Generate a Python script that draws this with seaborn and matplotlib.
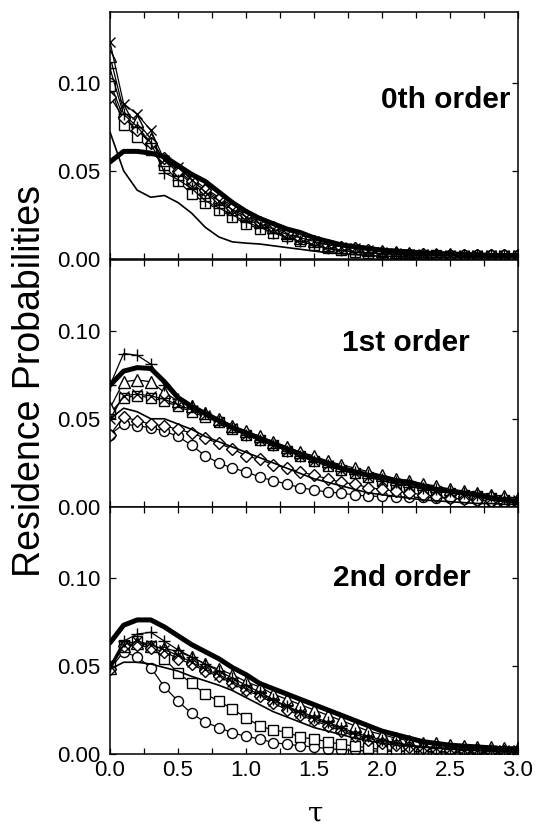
import numpy as np
import pandas as pd
import matplotlib
matplotlib.use("Agg")
import matplotlib.pyplot as plt
import seaborn as sns
from matplotlib.ticker import MultipleLocator

sns.set_style("ticks")
plt.rcParams['font.family'] = ['Liberation Sans', 'DejaVu Sans']
plt.rcParams.update({"text.color": "black", "axes.labelcolor": "black",
                     "xtick.color": "black", "ytick.color": "black",
                     "axes.edgecolor": "black"})

tau = [round(0.1 * i, 1) for i in range(31)]
panel_labels = ["0th order", "1st order", "2nd order"]
y_ticks = [0.00, 0.05, 0.10]
x_ticks = [0.0, 0.5, 1.0, 1.5, 2.0, 2.5, 3.0]

# ---------------- 0th order ----------------
p0_thick = [0.055, 0.061, 0.061, 0.060, 0.058, 0.053, 0.048, 0.044, 0.038, 0.032, 0.027,
            0.023, 0.020, 0.017, 0.015, 0.012, 0.010, 0.008, 0.007, 0.006, 0.005,
            0.0045, 0.004, 0.0035, 0.003, 0.003, 0.0025, 0.0025, 0.002, 0.002, 0.002]
p0_thin = [0.072, 0.050, 0.039, 0.035, 0.036, 0.032, 0.026, 0.018, 0.0125, 0.0097, 0.009,
           0.0085, 0.0075, 0.0065, 0.0055, 0.0045, 0.0035, 0.003, 0.0025, 0.002, 0.0015,
           0.0015, 0.001, 0.001, 0.001, 0.001, 0.001, 0.001, 0.001, 0.001, 0.001]
p0_circle = [0.100, 0.080, 0.074, 0.065, 0.056, 0.049, 0.043, 0.037, 0.032, 0.027, 0.023,
             0.019, 0.016, 0.013, 0.011, 0.009, 0.007, 0.006, 0.005, 0.004, 0.0035,
             0.003, 0.003, 0.0025, 0.0025, 0.002, 0.002, 0.002, 0.002, 0.002, 0.002]
p0_square = [0.098, 0.076, 0.069, 0.0615, 0.053, 0.044, 0.037, 0.032, 0.028, 0.024, 0.020,
             0.017, 0.015, 0.013, 0.010, 0.008, 0.006, 0.005, 0.004, 0.0035, 0.003,
             0.0025, 0.002, 0.002, 0.002, 0.0015, 0.0015, 0.0015, 0.0015, 0.0015, 0.0015]
p0_triangle = [0.115, 0.084, 0.078, 0.068, 0.056, 0.051, 0.046, 0.040, 0.035, 0.030, 0.025,
               0.021, 0.018, 0.015, 0.012, 0.010, 0.008, 0.007, 0.006, 0.005, 0.0045,
               0.004, 0.0035, 0.003, 0.003, 0.003, 0.0025, 0.0025, 0.0025, 0.0025, 0.0025]
p0_diamond = [0.092, 0.080, 0.073, 0.066, 0.057, 0.050, 0.044, 0.039, 0.034, 0.029, 0.025,
              0.021, 0.018, 0.015, 0.012, 0.010, 0.008, 0.007, 0.006, 0.005, 0.004,
              0.0035, 0.003, 0.003, 0.0025, 0.0025, 0.0025, 0.002, 0.002, 0.002, 0.002]
p0_plus = [0.108, 0.082, 0.075, 0.066, 0.049, 0.045, 0.040, 0.033, 0.029, 0.025, 0.021,
           0.018, 0.015, 0.012, 0.010, 0.008, 0.006, 0.005, 0.004, 0.0035, 0.003,
           0.003, 0.0025, 0.0025, 0.002, 0.002, 0.002, 0.002, 0.002, 0.002, 0.002]
p0_cross = [0.123, 0.088, 0.082, 0.073, 0.056, 0.052, 0.045, 0.038, 0.033, 0.028, 0.024,
            0.020, 0.017, 0.014, 0.012, 0.010, 0.008, 0.007, 0.006, 0.005, 0.004,
            0.0035, 0.003, 0.003, 0.0025, 0.0025, 0.002, 0.002, 0.002, 0.002, 0.002]

# ---------------- 1st order ----------------
p1_thick = [0.069, 0.077, 0.079, 0.0785, 0.071, 0.062, 0.057, 0.053, 0.049, 0.045, 0.042,
            0.039, 0.036, 0.033, 0.030, 0.027, 0.025, 0.022, 0.020, 0.018, 0.017,
            0.015, 0.014, 0.012, 0.010, 0.009, 0.008, 0.007, 0.005, 0.004, 0.003]
p1_thin = [0.050, 0.056, 0.054, 0.050, 0.050, 0.047, 0.044, 0.040, 0.037, 0.034, 0.031,
           0.028, 0.025, 0.022, 0.019, 0.016, 0.014, 0.012, 0.010, 0.008, 0.007,
           0.006, 0.005, 0.004, 0.0035, 0.003, 0.0025, 0.002, 0.002, 0.0015, 0.0015]
p1_circle = [0.041, 0.047, 0.046, 0.045, 0.043, 0.040, 0.035, 0.029, 0.025, 0.022, 0.020,
             0.017, 0.015, 0.013, 0.011, 0.0096, 0.0085, 0.0079, 0.0068, 0.0062, 0.006,
             0.0058, 0.0056, 0.0054, 0.0052, 0.005, 0.0045, 0.004, 0.0035, 0.003, 0.003]
p1_square = [0.053, 0.062, 0.063, 0.062, 0.060, 0.057, 0.054, 0.051, 0.048, 0.044, 0.041,
             0.038, 0.035, 0.032, 0.029, 0.026, 0.023, 0.021, 0.019, 0.017, 0.015,
             0.013, 0.012, 0.010, 0.009, 0.008, 0.007, 0.006, 0.005, 0.004, 0.003]
p1_triangle = [0.056, 0.071, 0.072, 0.071, 0.065, 0.060, 0.057, 0.053, 0.050, 0.046, 0.043,
               0.040, 0.037, 0.034, 0.031, 0.029, 0.026, 0.024, 0.022, 0.020, 0.018,
               0.016, 0.015, 0.013, 0.012, 0.010, 0.009, 0.008, 0.007, 0.006, 0.005]
p1_diamond = [0.041, 0.051, 0.049, 0.047, 0.046, 0.044, 0.042, 0.039, 0.036, 0.033, 0.029,
              0.027, 0.024, 0.022, 0.020, 0.018, 0.016, 0.014, 0.013, 0.011, 0.010,
              0.009, 0.008, 0.007, 0.006, 0.005, 0.0045, 0.004, 0.0035, 0.003, 0.003]
p1_plus = [0.069, 0.087, 0.086, 0.081, 0.069, 0.061, 0.057, 0.053, 0.049, 0.045, 0.041,
           0.038, 0.035, 0.032, 0.029, 0.026, 0.024, 0.022, 0.020, 0.018, 0.016,
           0.014, 0.013, 0.011, 0.010, 0.009, 0.008, 0.007, 0.006, 0.005, 0.004]
p1_cross = [0.050, 0.063, 0.064, 0.063, 0.061, 0.058, 0.055, 0.052, 0.048, 0.045, 0.041,
            0.038, 0.035, 0.032, 0.029, 0.026, 0.024, 0.021, 0.019, 0.017, 0.015,
            0.013, 0.012, 0.010, 0.009, 0.008, 0.007, 0.006, 0.005, 0.004, 0.004]

# ---------------- 2nd order ----------------
p2_thick = [0.063, 0.073, 0.076, 0.076, 0.072, 0.067, 0.062, 0.058, 0.054, 0.049, 0.045,
            0.040, 0.037, 0.034, 0.031, 0.028, 0.025, 0.022, 0.019, 0.016, 0.013,
            0.011, 0.009, 0.007, 0.006, 0.005, 0.0045, 0.004, 0.0035, 0.003, 0.003]
p2_thin = [0.048, 0.052, 0.052, 0.051, 0.049, 0.047, 0.044, 0.0415, 0.039, 0.036, 0.032,
           0.028, 0.024, 0.021, 0.018, 0.015, 0.013, 0.011, 0.009, 0.0075, 0.006,
           0.005, 0.0045, 0.004, 0.0035, 0.003, 0.0025, 0.002, 0.0015, 0.0012, 0.001]
p2_circle = [0.048, 0.058, 0.055, 0.049, 0.038, 0.030, 0.023, 0.018, 0.015, 0.012, 0.010,
             0.0085, 0.0065, 0.0055, 0.0047, 0.004, 0.003, 0.0025, 0.002, 0.0018, 0.0016,
             0.0015, 0.0014, 0.0013, 0.0012, 0.0012, 0.0011, 0.001, 0.001, 0.001, 0.001]
p2_square = [0.050, 0.062, 0.064, 0.061, 0.054, 0.046, 0.040, 0.034, 0.030, 0.0255, 0.0205,
             0.016, 0.0135, 0.0125, 0.0095, 0.0085, 0.007, 0.0055, 0.0045, 0.0035, 0.0025,
             0.002, 0.0015, 0.0013, 0.0012, 0.0011, 0.001, 0.001, 0.001, 0.001, 0.001]
p2_triangle = [0.049, 0.061, 0.063, 0.061, 0.060, 0.058, 0.055, 0.051, 0.048, 0.045, 0.041,
               0.038, 0.034, 0.031, 0.028, 0.025, 0.022, 0.019, 0.016, 0.013, 0.011,
               0.009, 0.0075, 0.0065, 0.006, 0.005, 0.0045, 0.004, 0.004, 0.0035, 0.0035]
p2_diamond = [0.048, 0.061, 0.062, 0.060, 0.058, 0.054, 0.051, 0.047, 0.044, 0.040, 0.036,
              0.033, 0.029, 0.025, 0.022, 0.019, 0.016, 0.013, 0.010, 0.008, 0.006,
              0.005, 0.004, 0.0035, 0.003, 0.0025, 0.002, 0.002, 0.0015, 0.0015, 0.0015]
p2_plus = [0.050, 0.064, 0.068, 0.069, 0.064, 0.059, 0.055, 0.051, 0.047, 0.043, 0.039,
           0.035, 0.031, 0.027, 0.024, 0.021, 0.018, 0.015, 0.012, 0.010, 0.008,
           0.0065, 0.005, 0.004, 0.0035, 0.003, 0.0025, 0.002, 0.002, 0.0015, 0.0015]
p2_cross = [0.050, 0.062, 0.064, 0.062, 0.059, 0.056, 0.052, 0.048, 0.045, 0.041, 0.037,
            0.034, 0.030, 0.027, 0.023, 0.020, 0.017, 0.014, 0.011, 0.009, 0.007,
            0.006, 0.005, 0.004, 0.0035, 0.003, 0.0025, 0.002, 0.002, 0.002, 0.002]

panels = [
    dict(thick=p0_thick, thin=p0_thin, o=p0_circle, s=p0_square, t=p0_triangle,
         d=p0_diamond, p=p0_plus, x=p0_cross),
    dict(thick=p1_thick, thin=p1_thin, o=p1_circle, s=p1_square, t=p1_triangle,
         d=p1_diamond, p=p1_plus, x=p1_cross),
    dict(thick=p2_thick, thin=p2_thin, o=p2_circle, s=p2_square, t=p2_triangle,
         d=p2_diamond, p=p2_plus, x=p2_cross),
]

label_pos = [(0.822, 0.645), (0.725, 0.664), (0.716, 0.711)]

fig = plt.figure(figsize=(5.38, 8.27), dpi=100)
left, width = 110 / 538, 408 / 538
tops = [12, 260, 507]
h = 247

marker_specs = [
    ("o", "o", 7.2),
    ("s", "s", 7.2),
    ("t", "^", 8.0),
    ("d", "D", 6.2),
    ("p", "+", 9.0),
    ("x", "x", 7.0),
]

axes = []
for i, pdata in enumerate(panels):
    bottom = 1 - (tops[i] + h) / 827
    ax = fig.add_axes([left, bottom, width, h / 827])
    axes.append(ax)
    for key, mk, ms in marker_specs:
        sns.lineplot(x=tau, y=pdata[key], ax=ax, color="black", lw=0.9,
                     marker=mk, markersize=ms, markerfacecolor="white",
                     markeredgecolor="black", markeredgewidth=1.0)
    sns.lineplot(x=tau, y=pdata["thin"], ax=ax, color="black", lw=1.2)
    sns.lineplot(x=tau, y=pdata["thick"], ax=ax, color="black", lw=3.6)
    ax.set_xlim(0, 3.0)
    ax.set_ylim(0, 0.14)
    ax.set_yticks(y_ticks)
    ax.set_xticks(x_ticks)
    ax.xaxis.set_minor_locator(MultipleLocator(0.25))
    ax.tick_params(which="both", direction="in", top=True, right=True,
                   length=4, width=0.9, labelsize=16, colors="black")
    ax.tick_params(axis="y", pad=7)
    ax.tick_params(axis="x", pad=4)
    ax.set_yticklabels([f"{v:.2f}" for v in y_ticks])
    if i < 2:
        ax.tick_params(labelbottom=False)
    else:
        ax.set_xticklabels([f"{v:.1f}" for v in x_ticks])
    for sp in ax.spines.values():
        sp.set_linewidth(1.1)
        sp.set_color("black")
    ax.set_xlabel("")
    ax.set_ylabel("")
    ax.text(label_pos[i][0], label_pos[i][1], panel_labels[i], transform=ax.transAxes,
            ha="center", va="center", fontsize=21.5, fontweight="bold", color="black")

fig.text(0.056, 1 - 381 / 827, "Residence Probabilities", rotation=90,
         ha="center", va="center", fontsize=27, color="black")
fig.text(316 / 538, 1 - 814 / 827, "τ", ha="center", va="center", fontsize=20,
         family=["DejaVu Serif"], color="black")

fig.savefig("out.png", dpi=100)
